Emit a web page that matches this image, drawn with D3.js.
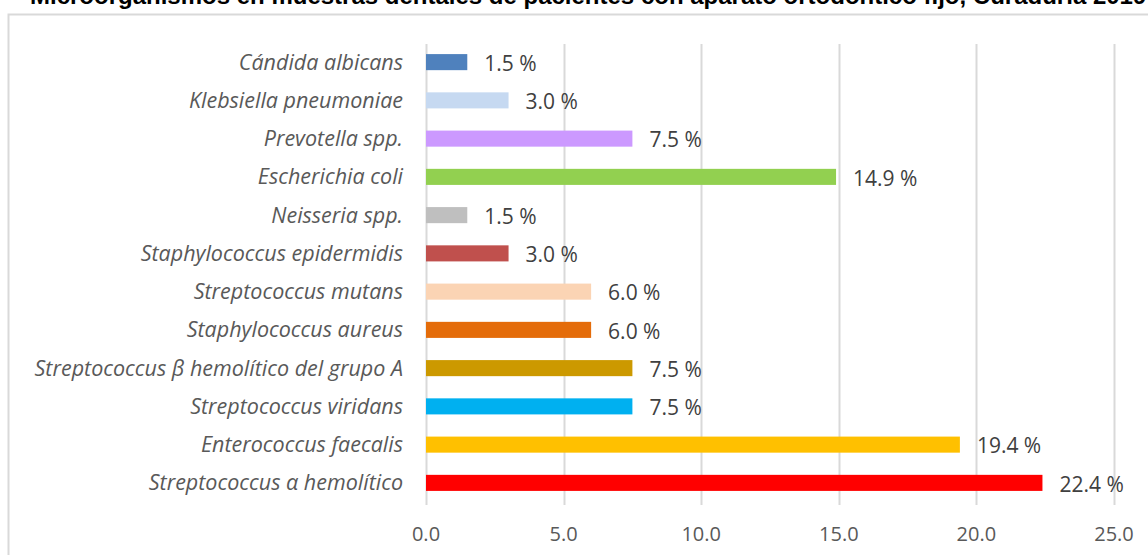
<!DOCTYPE html>
<html>
<head>
<meta charset="utf-8">
<script src="https://cdn.jsdelivr.net/npm/d3@7"></script>
<style>
  body { margin: 0; background: #fff; overflow: hidden; }
  svg { display: block; }
</style>
</head>
<body>
<div id="chart"></div>
<script>
// data, top to bottom
const species = [
  "Cándida albicans",
  "Klebsiella pneumoniae",
  "Prevotella spp.",
  "Escherichia coli",
  "Neisseria spp.",
  "Staphylococcus epidermidis",
  "Streptococcus mutans",
  "Staphylococcus aureus",
  "Streptococcus β hemolítico del grupo A",
  "Streptococcus viridans",
  "Enterococcus faecalis",
  "Streptococcus α hemolítico"
];
const percents = [1.5, 3.0, 7.5, 14.9, 1.5, 3.0, 6.0, 6.0, 7.5, 7.5, 19.4, 22.4];
const barColors = [
  "#4f81bd", "#c6d9f1", "#cc99ff", "#92d050", "#bfbfbf", "#c0504d",
  "#fbd4b4", "#e46c0a", "#cc9900", "#00b0f0", "#ffc000", "#ff0000"
];
const xTicks = [0, 5, 10, 15, 20, 25];
const title = "Microorganismos en muestras dentales de pacientes con aparato ortodóntico fijo, Curaduría 2019";

const width = 1148, height = 555;
const font = "'Open Sans', sans-serif";

const svg = d3.select("#chart")
  .append("svg")
    .attr("width", width)
    .attr("height", height);

// chart frame
svg.append("rect")
  .attr("x", 8.5).attr("y", 14.5)
  .attr("width", width + 20).attr("height", height)
  .style("fill", "none")
  .style("stroke", "#d9d9d9")
  .style("stroke-width", 2);

// title, only its lower edge shows at the top of the window
svg.append("text")
  .attr("x", 30).attr("y", 4)
  .style("font-family", "'Liberation Sans', Arial, sans-serif")
  .style("font-weight", "bold")
  .style("font-size", "24px")
  .style("fill", "#000")
  .text(title);

const x = d3.scaleLinear().domain([0, 25]).range([426, 1114]);
const y = d3.scaleBand().domain(species).range([43, 502]).paddingInner(0.58).paddingOuter(0.29);

// grid
svg.append("g")
  .selectAll("line")
  .data(xTicks).enter()
  .append("line")
    .attr("x1", d => Math.round(x(d)) + 0.5)
    .attr("x2", d => Math.round(x(d)) + 0.5)
    .attr("y1", 44).attr("y2", 505)
    .style("stroke", "#d9d9d9")
    .style("stroke-width", 2);

// x tick labels
svg.append("g")
  .selectAll("text")
  .data(xTicks).enter()
  .append("text")
    .attr("x", d => x(d))
    .attr("y", 541)
    .attr("text-anchor", "middle")
    .style("font-family", font)
    .style("font-size", "20px")
    .style("fill", "#595959")
    .text(d => d.toFixed(1));

// bars
const rows = species.map((s, i) => ({ name: s, value: percents[i], color: barColors[i] }));

svg.append("g")
  .selectAll("rect")
  .data(rows).enter()
  .append("rect")
    .attr("x", x(0))
    .attr("y", d => y(d.name))
    .attr("width", d => x(d.value) - x(0))
    .attr("height", y.bandwidth())
    .style("fill", d => d.color);

// value labels
svg.append("g")
  .selectAll("text")
  .data(rows).enter()
  .append("text")
    .attr("x", d => x(d.value) + 17)
    .attr("y", d => y(d.name) + y.bandwidth() / 2)
    .attr("dy", "0.42em")
    .style("font-family", font)
    .style("font-size", "21px")
    .style("fill", "#404040")
    .text(d => d.value.toFixed(1) + " %");

// category labels
svg.append("g")
  .selectAll("text")
  .data(rows).enter()
  .append("text")
    .attr("x", 403)
    .attr("y", d => y(d.name) + y.bandwidth() / 2)
    .attr("dy", "0.35em")
    .attr("text-anchor", "end")
    .style("font-family", font)
    .style("font-style", "italic")
    .style("font-size", "21.5px")
    .style("fill", "#595959")
    .text(d => d.name);
</script>
</body>
</html>
